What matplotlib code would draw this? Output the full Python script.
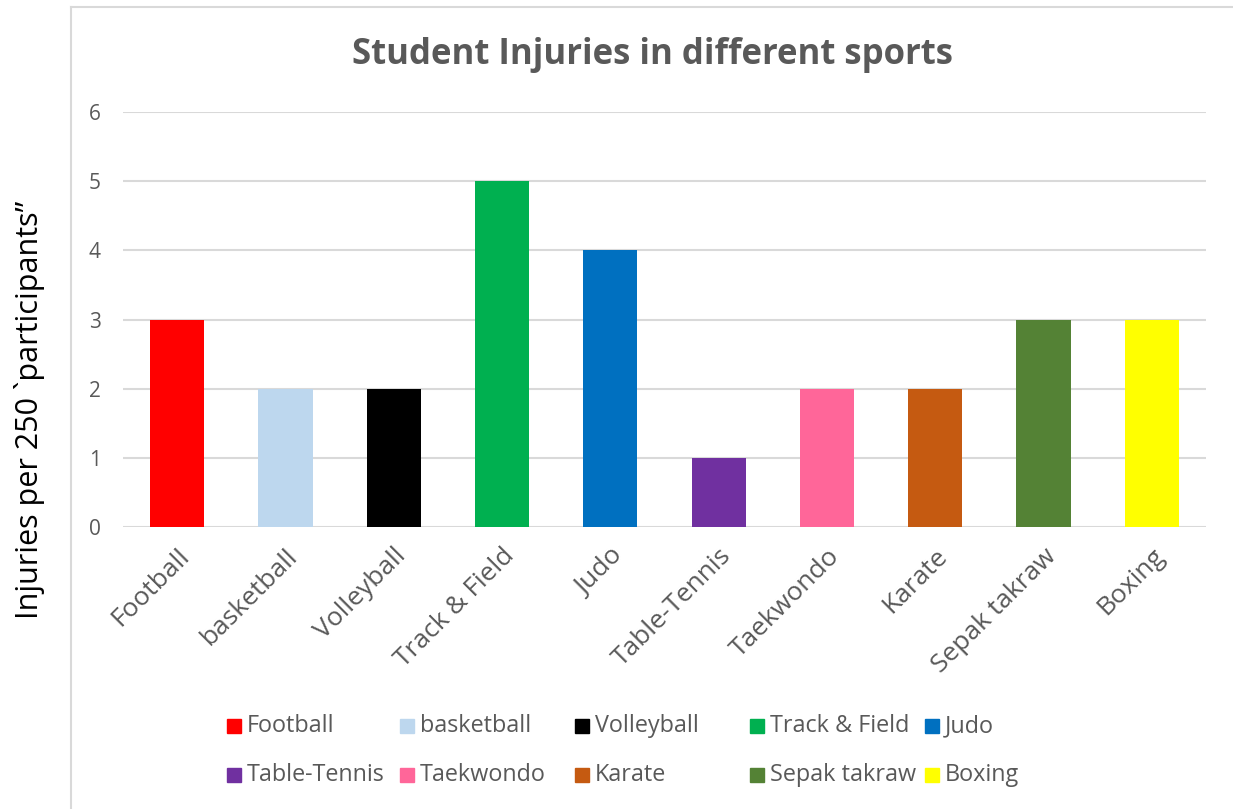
import matplotlib
matplotlib.use("Agg")
import matplotlib.pyplot as plt
from matplotlib.lines import Line2D
from matplotlib.patches import Rectangle

sports = ["Football", "basketball", "Volleyball", "Track & Field", "Judo",
          "Table-Tennis", "Taekwondo", "Karate", "Sepak takraw", "Boxing"]
injuries = [3, 2, 2, 5, 4, 1, 2, 2, 3, 3]
colors = ["#FF0000", "#BDD7EE", "#000000", "#00B050", "#0070C0",
          "#7030A0", "#FF6699", "#C55A11", "#548235", "#FFFF00"]
yticks = [0, 1, 2, 3, 4, 5, 6]

W, H = 1233, 809
fig = plt.figure(figsize=(W / 100, H / 100), dpi=100)
plt.rcParams['font.family'] = ['Open Sans', 'DejaVu Sans']

def fx(px):
    return px / W

def fy(py):
    return 1 - py / H

ax = fig.add_axes([fx(123), fy(527), fx(1206) - fx(123), fy(112) - fy(527)])
x = list(range(len(sports)))
ax.bar(x, injuries, width=0.5, color=colors, zorder=3)
ax.set_xlim(-0.5, len(sports) - 0.5)
ax.set_ylim(0, 6)
ax.set_yticks(yticks)
ax.set_yticklabels([str(t) for t in yticks], fontsize=15, color="#595959")
ax.set_xticks(x)
ax.set_xticklabels(sports, rotation=45, ha="right", rotation_mode="anchor",
                   fontsize=19, color="#595959")
ax.tick_params(axis="both", length=0)
ax.tick_params(axis="y", pad=16)
ax.tick_params(axis="x", pad=12)
ax.grid(axis="y", color="#D9D9D9", linewidth=1.5, zorder=0)
for s in ax.spines.values():
    s.set_visible(False)

fig.text(fx(653), fy(55), "Student Injuries in different sports", ha="center", va="center",
         fontsize=25, fontweight="bold", color="#595959")
fig.text(fx(30), fy(410), "Injuries per 250 `participants\u201d", ha="center", va="center",
         rotation=90, fontsize=22, color="black")

# chart border lines
fig.add_artist(Line2D([fx(71), fx(71)], [fy(7), 0], color="#D9D9D9", linewidth=1.5))
fig.add_artist(Line2D([fx(71), 1], [fy(7), fy(7)], color="#D9D9D9", linewidth=1.5))

# legend (Excel-style manual layout)
col_x = [227, 400, 575, 750, 925]
row_y = [726, 775]
for i, (name, c) in enumerate(zip(sports, colors)):
    px = col_x[i % 5]
    py = row_y[i // 5]
    fig.add_artist(Rectangle((fx(px), fy(py + 7)), fx(14), 14 / H, color=c,
                             transform=fig.transFigure))
    fig.text(fx(px + 20), fy(py), name, ha="left", va="center", fontsize=16.8, color="#595959")

fig.savefig("out.png", dpi=100)
